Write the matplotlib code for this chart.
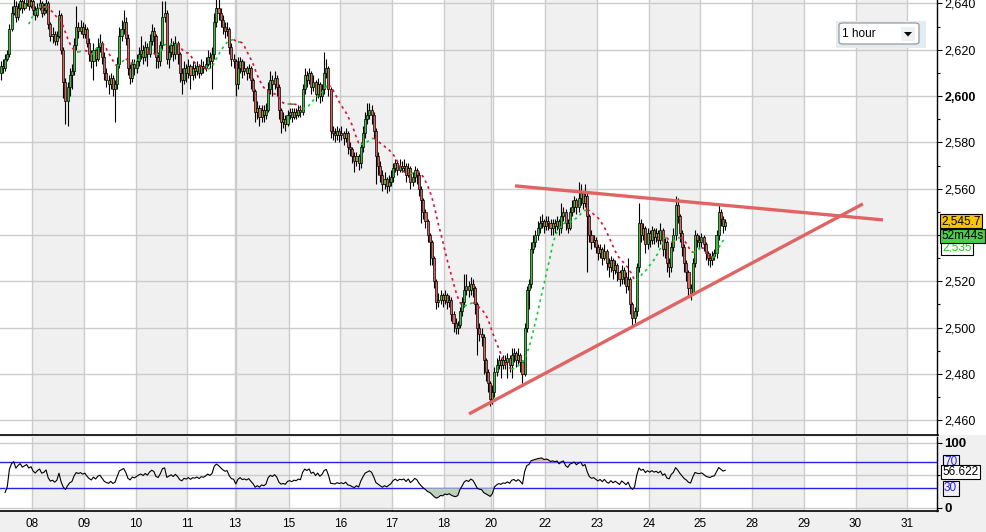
import numpy as np
import pandas as pd
import matplotlib
matplotlib.use("Agg")
import matplotlib.pyplot as plt
from matplotlib.patches import Rectangle, FancyBboxPatch, Polygon

plt.rcParams["font.family"] = ["Liberation Sans", "DejaVu Sans"]

# ---- data (hourly candles) ----
day_labels = ["07", "08", "09", "10", "11", "13", "15", "16", "17", "18",
              "20", "22", "23", "24", "25", "28", "29", "30", "31"]
day_sizes = [15, 24, 24, 24, 22, 25, 24, 24, 24, 22, 25, 24, 24, 24, 24, 24, 24, 24, 24]
weekend_days = ["13", "20"]

first_open = 2610
closes = [
    2613, 2612, 2616, 2618, 2629, 2636, 2639, 2634, 2638, 2641, 2638, 2640, 2642, 2639, 2641, 2637, 2635, 2638, 2640, 2636,
    2637, 2640, 2631, 2626, 2627, 2624, 2626, 2635, 2620, 2606, 2598, 2604, 2609, 2611, 2622, 2630, 2628, 2630, 2627, 2629,
    2623, 2618, 2615, 2620, 2616, 2621, 2623, 2617, 2610, 2607, 2605, 2608, 2603, 2605, 2614, 2626, 2629, 2632, 2625, 2612,
    2608, 2614, 2612, 2615, 2618, 2620, 2617, 2621, 2618, 2624, 2628, 2626, 2617, 2615, 2622, 2634, 2636, 2616, 2619, 2622,
    2618, 2623, 2618, 2610, 2607, 2612, 2610, 2613, 2609, 2612, 2611, 2613, 2610, 2613, 2612, 2614, 2617, 2615, 2618, 2632,
    2638, 2636, 2633, 2630, 2628, 2629, 2621, 2616, 2615, 2605, 2612, 2615, 2611, 2612, 2610, 2612, 2607, 2602, 2593, 2595,
    2591, 2594, 2592, 2594, 2603, 2607, 2605, 2608, 2604, 2594, 2589, 2590, 2588, 2592, 2593, 2591, 2593, 2592, 2594, 2593,
    2603, 2609, 2607, 2610, 2604, 2606, 2601, 2605, 2600, 2603, 2610, 2612, 2603, 2585, 2584, 2583, 2585, 2583, 2584, 2582,
    2584, 2578, 2577, 2574, 2572, 2574, 2571, 2578, 2584, 2590, 2592, 2594, 2592, 2585, 2574, 2570, 2566, 2562, 2564, 2561,
    2563, 2565, 2569, 2571, 2568, 2570, 2569, 2570, 2566, 2569, 2563, 2565, 2568, 2566, 2560, 2555, 2550, 2546, 2540, 2537,
    2530, 2520, 2511, 2512, 2514, 2512, 2514, 2511, 2512, 2506, 2502, 2500, 2501, 2507, 2511, 2516, 2518, 2516, 2519, 2517,
    2510, 2500, 2497, 2496, 2486, 2481, 2476, 2469, 2472, 2481, 2484, 2486, 2484, 2486, 2485, 2487, 2484, 2488, 2489, 2486,
    2488, 2485, 2480, 2500, 2516, 2519, 2534, 2537, 2540, 2543, 2545, 2546, 2544, 2546, 2545, 2543, 2545, 2544, 2546, 2543,
    2548, 2550, 2545, 2543, 2550, 2552, 2555, 2552, 2556, 2558, 2554, 2557, 2548, 2540, 2537, 2538, 2535, 2532, 2534, 2530,
    2533, 2528, 2526, 2529, 2525, 2527, 2524, 2521, 2525, 2522, 2518, 2521, 2510, 2504, 2507, 2526, 2545, 2540, 2543, 2536,
    2541, 2538, 2542, 2539, 2541, 2538, 2542, 2534, 2537, 2528, 2526, 2535, 2540, 2553, 2548, 2541, 2535, 2528, 2524, 2517,
    2515, 2528, 2540, 2538, 2537, 2539, 2536, 2532, 2530, 2529, 2531, 2532, 2540, 2550, 2547, 2544, 2545.7,
]
highs = [
    2615, 2616, 2618, 2620, 2631, 2639, 2643, 2641, 2640, 2644, 2643, 2642, 2645, 2644, 2643, 2642, 2639, 2640, 2643, 2641,
    2640, 2643, 2641, 2632, 2630, 2628, 2628, 2637, 2636, 2621, 2608, 2606, 2612, 2614, 2625, 2639, 2632, 2633, 2632, 2631,
    2630, 2625, 2620, 2623, 2621, 2625, 2627, 2624, 2619, 2612, 2609, 2610, 2609, 2607, 2617, 2630, 2633, 2637, 2634, 2627,
    2614, 2616, 2616, 2618, 2621, 2626, 2622, 2624, 2623, 2627, 2631, 2630, 2627, 2619, 2624, 2641, 2641, 2637, 2622, 2625,
    2624, 2626, 2624, 2619, 2612, 2615, 2614, 2616, 2614, 2615, 2614, 2615, 2614, 2616, 2615, 2617, 2620, 2619, 2621, 2636,
    2643, 2642, 2638, 2635, 2632, 2632, 2630, 2623, 2618, 2616, 2617, 2617, 2616, 2615, 2613, 2614, 2613, 2608, 2603, 2598,
    2596, 2596, 2596, 2597, 2606, 2611, 2609, 2611, 2609, 2605, 2595, 2593, 2592, 2594, 2595, 2595, 2595, 2595, 2596, 2596,
    2605, 2612, 2611, 2612, 2611, 2609, 2607, 2608, 2606, 2605, 2619, 2616, 2613, 2604, 2587, 2586, 2587, 2586, 2587, 2585,
    2586, 2585, 2580, 2578, 2576, 2576, 2575, 2580, 2587, 2593, 2597, 2597, 2596, 2593, 2586, 2576, 2572, 2568, 2567, 2565,
    2566, 2568, 2571, 2573, 2572, 2573, 2572, 2573, 2571, 2571, 2570, 2567, 2570, 2569, 2567, 2561, 2556, 2551, 2547, 2541,
    2538, 2531, 2521, 2515, 2516, 2515, 2516, 2515, 2514, 2513, 2507, 2504, 2503, 2509, 2513, 2523, 2523, 2520, 2522, 2521,
    2518, 2511, 2502, 2500, 2497, 2487, 2482, 2477, 2475, 2483, 2487, 2488, 2487, 2488, 2488, 2489, 2488, 2491, 2491, 2490,
    2491, 2489, 2486, 2502, 2518, 2521, 2537, 2540, 2542, 2546, 2548, 2549, 2547, 2548, 2548, 2547, 2547, 2547, 2548, 2547,
    2554, 2552, 2551, 2547, 2552, 2555, 2557, 2556, 2563, 2562, 2559, 2562, 2558, 2549, 2542, 2540, 2539, 2536, 2536, 2535,
    2536, 2534, 2530, 2531, 2530, 2529, 2528, 2525, 2527, 2526, 2524, 2530, 2522, 2511, 2509, 2528, 2554, 2547, 2545, 2544,
    2543, 2542, 2544, 2543, 2543, 2542, 2545, 2543, 2539, 2538, 2530, 2537, 2543, 2557, 2556, 2549, 2542, 2536, 2529, 2525,
    2519, 2530, 2542, 2541, 2540, 2541, 2540, 2537, 2533, 2532, 2533, 2534, 2542, 2553, 2551, 2548, 2547,
]
lows = [
    2607, 2610, 2611, 2615, 2617, 2628, 2635, 2632, 2633, 2637, 2636, 2637, 2639, 2637, 2638, 2635, 2633, 2634, 2637, 2634,
    2635, 2636, 2629, 2624, 2623, 2622, 2622, 2625, 2618, 2599, 2588, 2587, 2600, 2603, 2609, 2620, 2625, 2627, 2625, 2625,
    2621, 2615, 2612, 2607, 2613, 2615, 2619, 2614, 2607, 2604, 2601, 2603, 2600, 2589, 2603, 2612, 2624, 2627, 2622, 2609,
    2605, 2606, 2609, 2610, 2613, 2616, 2614, 2615, 2613, 2617, 2622, 2618, 2612, 2612, 2613, 2620, 2632, 2614, 2612, 2617,
    2615, 2616, 2614, 2606, 2601, 2605, 2606, 2608, 2603, 2607, 2608, 2609, 2608, 2609, 2610, 2611, 2613, 2612, 2603, 2616,
    2630, 2633, 2630, 2627, 2625, 2626, 2618, 2613, 2612, 2600, 2603, 2610, 2608, 2609, 2607, 2608, 2603, 2598, 2589, 2590,
    2587, 2589, 2589, 2590, 2593, 2601, 2600, 2603, 2600, 2590, 2584, 2586, 2585, 2587, 2590, 2589, 2590, 2590, 2591, 2591,
    2592, 2601, 2604, 2605, 2601, 2602, 2598, 2599, 2597, 2598, 2601, 2608, 2600, 2582, 2581, 2580, 2581, 2580, 2581, 2579,
    2580, 2575, 2574, 2571, 2567, 2570, 2568, 2569, 2576, 2582, 2588, 2590, 2588, 2582, 2562, 2566, 2563, 2559, 2560, 2558,
    2559, 2561, 2563, 2567, 2566, 2567, 2567, 2567, 2563, 2565, 2560, 2561, 2563, 2562, 2557, 2545, 2547, 2543, 2537, 2527,
    2527, 2517, 2508, 2509, 2510, 2509, 2510, 2508, 2509, 2503, 2498, 2497, 2497, 2500, 2505, 2509, 2514, 2513, 2514, 2513,
    2506, 2488, 2494, 2492, 2480, 2477, 2472, 2466, 2467, 2470, 2479, 2482, 2478, 2482, 2482, 2478, 2481, 2478, 2485, 2483,
    2484, 2481, 2476, 2479, 2498, 2508, 2517, 2532, 2535, 2538, 2541, 2543, 2541, 2542, 2542, 2540, 2540, 2541, 2542, 2540,
    2541, 2546, 2542, 2541, 2542, 2548, 2550, 2549, 2550, 2553, 2551, 2552, 2524, 2537, 2534, 2535, 2532, 2529, 2530, 2527,
    2529, 2525, 2522, 2524, 2521, 2523, 2520, 2518, 2519, 2519, 2515, 2516, 2506, 2501, 2502, 2505, 2524, 2537, 2538, 2532,
    2534, 2535, 2536, 2536, 2537, 2535, 2536, 2531, 2530, 2524, 2522, 2524, 2533, 2538, 2545, 2537, 2531, 2524, 2520, 2513,
    2512, 2514, 2526, 2535, 2534, 2535, 2533, 2529, 2527, 2526, 2527, 2529, 2530, 2538, 2544, 2541, 2542,
]

# trend lines drawn on the chart (candle index, price)
upper_line_x = [238.5, 409.2]
upper_line_y = [2561.2, 2546.5]
lower_line_x = [217.2, 399.9]
lower_line_y = [2462.7, 2553.4]

price_ticks = list(range(2460, 2641, 20))
rsi_levels = [30, 70]
last_price_txt = "2,545.7"
countdown_txt = "52m44s"
ma_txt = "2,535"
rsi_txt = "56.622"
timeframe_txt = "1 hour"

# ---- indicators ----
df = pd.DataFrame({"h": highs, "l": lows, "c": closes})
df["o"] = df["c"].shift(1).fillna(first_open)
df["sma"] = df["c"].rolling(14).mean()
delta = df["c"].diff()
gain = delta.clip(lower=0).ewm(alpha=1 / 14, adjust=False).mean()
loss = (-delta.clip(upper=0)).ewm(alpha=1 / 14, adjust=False).mean()
df["rsi"] = 100 - 100 / (1 + gain / loss)

W, H = 987, 532
fig = plt.figure(figsize=(W / 100, H / 100), dpi=100, facecolor="#f0f0f0")


def fx(px):
    return px / W


def fy(py):
    return 1 - py / H


# white strip behind the price axis labels
fig.add_artist(Rectangle((fx(937), fy(435)), fx(50), 435 / H, transform=fig.transFigure,
                         fc="white", ec="none", zorder=0))

ax = fig.add_axes([0, fy(434.7), fx(937.5), 434.7 / H])
ax2 = fig.add_axes([0, fy(511.3), fx(937.5), (511.3 - 437.3) / H], sharex=ax)

x = np.arange(len(df))
starts = np.cumsum([0] + day_sizes[:-1])
xlim = (-0.36, 434.5)

for a in (ax, ax2):
    a.set_facecolor("white")
    for k, (lab, s, n) in enumerate(zip(day_labels, starts, day_sizes)):
        if k % 2 == 1:
            a.axvspan(s - 0.5, s + n - 0.5, color="#f0f0f0", lw=0, zorder=0)
        if k > 0:
            a.axvline(s - 0.5, color="#cccccc", lw=1.0, zorder=1)
        if lab in weekend_days:
            a.axvline(s + 0.3, color="#cccccc", lw=1.0, zorder=1)
    a.set_xlim(*xlim)
    for sp in ("left", "top"):
        a.spines[sp].set_visible(False)

# ---- main price panel ----
for p in price_ticks:
    ax.axhline(p, color="#cccccc", lw=1.0, zorder=1)

up = (df["c"] >= df["o"]).values
ax.vlines(x, df["l"], df["h"], color="black", lw=0.8, zorder=3)
body = (df["c"] - df["o"]).abs().clip(lower=0.5)
bottom = df[["o", "c"]].min(axis=1)
ax.bar(x, body, bottom=bottom, width=0.95, color=np.where(up, "#3fc03f", "#dc625c"),
       edgecolor="black", linewidth=0.5, zorder=4)

# moving average, green while rising, red while falling
ma = df["sma"].values
first = 13
rising = ma[first + 1:] >= ma[first:-1]
s = 0
while s < len(rising):
    e = s
    while e + 1 < len(rising) and rising[e + 1] == rising[s]:
        e += 1
    seg = slice(first + s, first + e + 2)
    ax.plot(x[seg], ma[seg], color="#11cc33" if rising[s] else "#dd0f3f",
            lw=1.2, ls=(0, (1.6, 2.2)), zorder=5)
    s = e + 1

ax.plot(upper_line_x, upper_line_y, color="#e06464", lw=2.4, zorder=6, solid_capstyle="butt")
ax.plot(lower_line_x, lower_line_y, color="#e06464", lw=2.4, zorder=6, solid_capstyle="butt")

ax.set_ylim(2453.7, 2641.5)
ax.yaxis.tick_right()
ax.set_yticks(price_ticks)
ax.set_yticklabels([f"{p:,}" for p in price_ticks])
ax.set_yticks([p + 10 for p in price_ticks[:-1]], minor=True)
ax.tick_params(axis="y", which="major", direction="out", length=3.5, width=0.8, pad=1.5, labelsize=9)
ax.tick_params(axis="y", which="minor", direction="out", length=2.5, width=0.8)
ax.tick_params(axis="x", which="both", bottom=False, labelbottom=False)
for t, p in zip(ax.get_yticklabels(), price_ticks):
    if p == 2600:
        t.set_fontweight("bold")
ax.spines["right"].set_linewidth(1.0)
ax.spines["bottom"].set_linewidth(1.2)

# ---- RSI panel ----
for lv in (0, 50, 100):
    ax2.axhline(lv, color="#cccccc", lw=1.0, zorder=1)
for lv in rsi_levels:
    ax2.axhline(lv, color="#2424e6", lw=1.0, zorder=2)
rsi = df["rsi"].values[2:]
xr = x[2:]
ax2.fill_between(xr, rsi, 70, where=rsi > 70, interpolate=True, color="#d9bcb4", lw=0, zorder=2)
ax2.fill_between(xr, rsi, 30, where=rsi < 30, interpolate=True, color="#bcd0bc", lw=0, zorder=2)
ax2.plot(xr, rsi, color="black", lw=0.8, zorder=3)
ax2.set_ylim(-5.4, 108.5)
ax2.yaxis.tick_right()
ax2.set_yticks([0, 100])
ax2.set_yticklabels(["0", "100"], fontweight="bold")
ax2.set_yticks([50], minor=True)
ax2.tick_params(axis="y", which="major", direction="out", length=3.5, width=0.8, pad=1.5, labelsize=9.5)
ax2.tick_params(axis="y", which="minor", direction="out", length=2.5, width=0.8)
ax2.set_xticks(starts[1:] - 0.5)
ax2.set_xticklabels(day_labels[1:])
ax2.tick_params(axis="x", length=0, pad=5, labelsize=8.5)
ax2.spines["top"].set_linewidth(1.2)
ax2.spines["right"].set_linewidth(1.0)
ax2.spines["bottom"].set_linewidth(1.2)

# ---- axis value tags ----
fig.text(fx(942), fy(248), ma_txt, fontsize=8.5, color="#22cc22", va="center",
         bbox=dict(boxstyle="square,pad=0.12", fc="white", ec="black", lw=0.8))
fig.text(fx(941), fy(221), last_price_txt, fontsize=8.5, va="center",
         bbox=dict(boxstyle="square,pad=0.12", fc="#f7c400", ec="black", lw=0.8))
fig.text(fx(941), fy(236), countdown_txt, fontsize=8.5, va="center",
         bbox=dict(boxstyle="square,pad=0.12", fc="#4ccc4c", ec="black", lw=0.8))
fig.text(fx(944), fy(462.3), "70", fontsize=8.5, color="#2424e6", va="center",
         bbox=dict(boxstyle="square,pad=0.12", fc="#f0f0f0", ec="black", lw=0.8))
fig.text(fx(944), fy(488.3), "30", fontsize=8.5, color="#2424e6", va="center",
         bbox=dict(boxstyle="square,pad=0.12", fc="#f0f0f0", ec="black", lw=0.8))
fig.text(fx(942), fy(472), rsi_txt, fontsize=8.5, va="center",
         bbox=dict(boxstyle="square,pad=0.12", fc="white", ec="black", lw=0.8))

# ---- timeframe selector ----
fig.add_artist(Rectangle((fx(836), fy(48)), fx(90), 27 / H, transform=fig.transFigure,
                         fc="#e3ebf3", ec="none", zorder=5))
fig.add_artist(FancyBboxPatch((fx(839), fy(44)), fx(80), 21 / H, transform=fig.transFigure,
                              boxstyle="round,pad=0,rounding_size=0.004",
                              fc="white", ec="#9a9a9a", lw=0.9, zorder=6))
fig.add_artist(Rectangle((fx(901), fy(41)), fx(14), 14 / H, transform=fig.transFigure,
                         fc="#eef0f2", ec="none", zorder=7))
fig.add_artist(Polygon([(fx(904), fy(32)), (fx(912), fy(32)), (fx(908), fy(36.5))],
                       closed=True, transform=fig.transFigure, fc="black", ec="none", zorder=8))
fig.text(fx(842), fy(34), timeframe_txt, fontsize=8.5, va="center", zorder=9)

fig.savefig("out.png", dpi=100, facecolor=fig.get_facecolor())
